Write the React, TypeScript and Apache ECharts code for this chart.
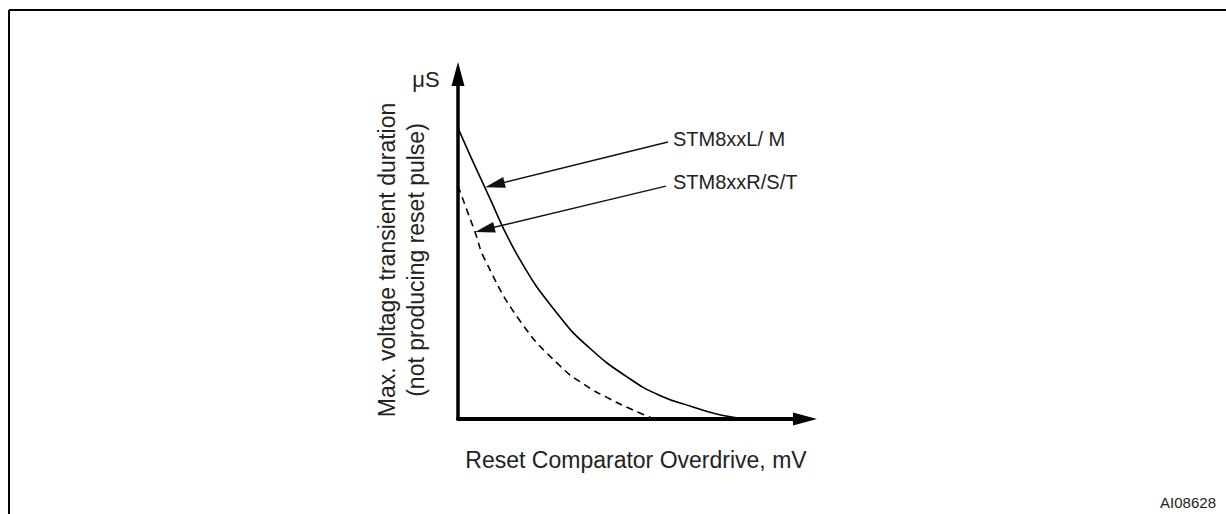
import React, { useEffect, useRef } from "react";
import * as echarts from "echarts";

// Curve for STM8xxL/ M (solid): [overdrive, duration] in relative units
const solidX = [0, 7.8, 17.9, 29.4, 38, 48.7, 58, 67.7, 76, 84];
const solidY = [84.3, 67.0, 46.1, 29.6, 20.5, 12.2, 6.9, 3.5, 1.1, 0];
// Curve for STM8xxR/S/T (dashed)
const dashX = [0, 4.9, 7.8, 17.9, 29.4, 37, 43.8, 50, 56];
const dashY = [67.5, 54.2, 46.1, 28.4, 15.4, 9.6, 5.8, 2.8, 0.2];

const seriesNames = ["STM8xxL/ M", "STM8xxR/S/T"];
// Annotation arrows: [from (label side), to (arrow head centre near curve)]
const arrowFrom = [[60.5, 80.3], [59.9, 67.5]];
const arrowTo = [[10.6, 67.9], [7.7, 54.9]];

const xTitle = "Reset Comparator Overdrive, mV";
const yUnit = "μS";
const yTitle = "Max. voltage transient duration\n(not producing reset pulse)";
const figId = "AI08628";

const FONT = 'Arial, "Liberation Sans", Helvetica, sans-serif';
const TXT = "#222";

export default function App() {
  const ref = useRef<HTMLDivElement>(null);
  useEffect(() => {
    if (!ref.current) return;
    const chart = echarts.init(ref.current, undefined, { renderer: "svg" });
    const zip = (xs: number[], ys: number[]) => xs.map((x, i) => [x, ys[i]]);
    chart.setOption({
      animation: false,
      backgroundColor: "#fff",
      grid: { left: 458, top: 74, right: 421, bottom: 95 },
      xAxis: {
        type: "value",
        min: 0,
        max: 100,
        axisLine: {
          show: true,
          lineStyle: { color: "#000", width: 4 },
          symbol: ["none", "triangle"],
          symbolSize: [13, 24],
        },
        axisTick: { show: false },
        axisLabel: { show: false },
        splitLine: { show: false },
      },
      yAxis: {
        type: "value",
        min: 0,
        max: 100,
        axisLine: {
          show: true,
          lineStyle: { color: "#000", width: 3.5 },
          symbol: ["none", "triangle"],
          symbolSize: [13, 24],
        },
        axisTick: { show: false },
        axisLabel: { show: false },
        splitLine: { show: false },
      },
      series: [
        {
          name: seriesNames[0],
          type: "line",
          data: zip(solidX, solidY),
          smooth: 0.5,
          showSymbol: false,
          lineStyle: { color: "#000", width: 1.6 },
          z: 3,
          markLine: {
            silent: true,
            symbol: ["none", "triangle"],
            symbolSize: [11, 20],
            lineStyle: { color: "#111", width: 1.5, type: "solid" },
            label: { show: false },
            data: arrowFrom.map((f, i) => [
              { coord: f },
              { coord: arrowTo[i] },
            ]),
          },
        },
        {
          name: seriesNames[1],
          type: "line",
          data: zip(dashX, dashY),
          smooth: 0.5,
          showSymbol: false,
          lineStyle: { color: "#000", width: 1.6, type: [7, 5] },
          z: 3,
        },
      ],
      graphic: [
        {
          type: "line",
          shape: { x1: 9, y1: 10, x2: 1226, y2: 10 },
          style: { stroke: "#000", lineWidth: 2 },
        },
        {
          type: "line",
          shape: { x1: 9, y1: 10, x2: 9, y2: 514 },
          style: { stroke: "#000", lineWidth: 2 },
        },
        {
          type: "text",
          x: 673,
          y: 139,
          style: { text: seriesNames[0], font: `20px ${FONT}`, fill: TXT, verticalAlign: "middle", align: "left" },
        },
        {
          type: "text",
          x: 673,
          y: 182,
          style: { text: seriesNames[1], font: `20px ${FONT}`, fill: TXT, verticalAlign: "middle", align: "left" },
        },
        {
          type: "text",
          x: 426,
          y: 79,
          style: { text: yUnit, font: `22px ${FONT}`, fill: TXT, verticalAlign: "middle", align: "center" },
        },
        {
          type: "text",
          x: 636,
          y: 460,
          style: { text: xTitle, font: `23px ${FONT}`, fill: TXT, verticalAlign: "middle", align: "center" },
        },
        {
          type: "text",
          x: 401,
          y: 260,
          rotation: Math.PI / 2,
          style: {
            text: yTitle,
            font: `23px ${FONT}`,
            fill: TXT,
            verticalAlign: "middle",
            align: "center",
            lineHeight: 29,
          },
        },
        {
          type: "text",
          x: 1216,
          y: 502,
          style: { text: figId, font: `15px ${FONT}`, fill: TXT, verticalAlign: "middle", align: "right" },
        },
      ],
    });
    return () => chart.dispose();
  }, []);
  return (
    <div
      ref={ref}
      style={{ position: "absolute", left: 0, top: 0, width: 1226, height: 514 }}
    />
  );
}
